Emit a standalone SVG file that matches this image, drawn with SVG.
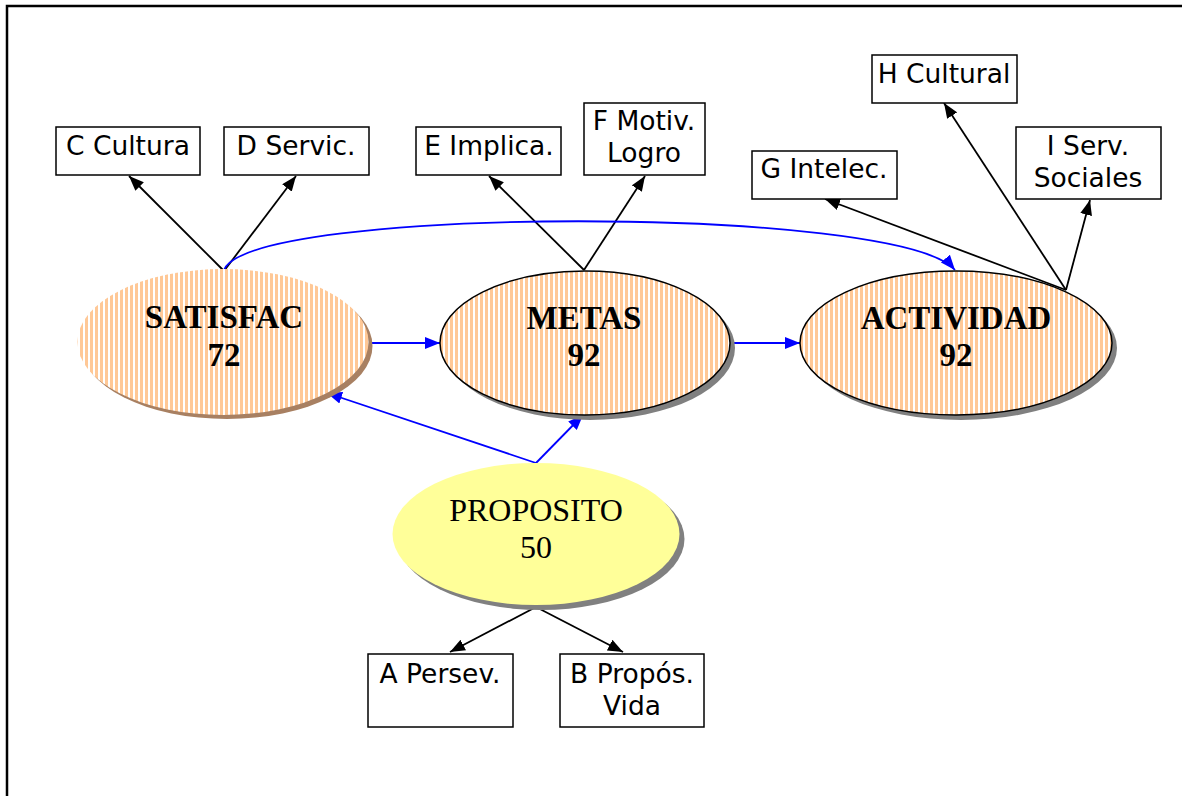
<svg xmlns="http://www.w3.org/2000/svg" width="1182" height="796" viewBox="0 0 1182 796">
<defs>
<pattern id="stripes" patternUnits="userSpaceOnUse" width="5" height="10">
<rect width="5" height="10" fill="#ffffff"/>
<rect width="3" height="10" fill="#ffc896"/>
</pattern>
<marker id="ab" viewBox="0 0 15 12" refX="15" refY="6" markerWidth="15" markerHeight="12" markerUnits="userSpaceOnUse" orient="auto">
<path d="M0,0 L15,6 L0,12 Z" fill="#000"/>
</marker>
<marker id="ablue" viewBox="0 0 15 12" refX="15" refY="6" markerWidth="15" markerHeight="12" markerUnits="userSpaceOnUse" orient="auto">
<path d="M0,0 L15,6 L0,12 Z" fill="#0000ff"/>
</marker>
</defs>
<style>
.box{fill:#fff;stroke:#000;stroke-width:1.5}
.bt{font-family:"DejaVu Sans",Verdana,sans-serif;font-size:26.5px;fill:#000;text-anchor:middle}
.et{font-family:"Liberation Serif","Times New Roman",serif;font-size:32px;fill:#000;text-anchor:middle}
.bold{font-weight:bold;font-size:33px}
.k{stroke:#000;stroke-width:1.8;fill:none;marker-end:url(#ab)}
.b{stroke:#0000ff;stroke-width:1.8;fill:none;marker-end:url(#ablue)}
</style>
<rect width="1182" height="796" fill="#fff"/>
<path d="M7,796 V6 H1182" fill="none" stroke="#000" stroke-width="2.5"/>

<g id="connectors">
<line class="k" x1="224" y1="271" x2="129" y2="176"/>
<line class="k" x1="224" y1="271" x2="296" y2="176"/>
<line class="k" x1="584" y1="270" x2="489" y2="176"/>
<line class="k" x1="584" y1="270" x2="645" y2="176"/>
<line class="k" x1="1066" y1="290" x2="825" y2="199"/>
<line class="k" x1="1066" y1="290" x2="944" y2="103"/>
<line class="k" x1="1066" y1="290" x2="1090" y2="200"/>
<line class="k" x1="536" y1="607" x2="450" y2="652"/>
<line class="k" x1="536" y1="607" x2="623" y2="652"/>
<path class="b" d="M224,270 C250,205 900,205 955,270"/>
<line class="b" x1="368" y1="343" x2="440" y2="343"/>
<line class="b" x1="730" y1="343" x2="800" y2="343"/>
<line class="b" x1="536" y1="463" x2="327" y2="393"/>
<line class="b" x1="536" y1="463" x2="583" y2="415"/>
</g>

<g id="satisfac">
<ellipse cx="227" cy="346" rx="145.5" ry="73" fill="#a88062"/>
<ellipse cx="223" cy="342" rx="145.5" ry="73" fill="url(#stripes)"/>
<text class="et bold" x="224" y="328">SATISFAC</text>
<text class="et bold" x="224" y="366">72</text>
</g>
<g id="metas">
<ellipse cx="590" cy="348" rx="145" ry="72" fill="#808080"/>
<ellipse cx="585" cy="343" rx="145" ry="72" fill="url(#stripes)" stroke="#000" stroke-width="1.5"/>
<text class="et bold" x="584" y="329">METAS</text>
<text class="et bold" x="584" y="366">92</text>
</g>
<g id="actividad">
<ellipse cx="961" cy="348" rx="156" ry="72" fill="#808080"/>
<ellipse cx="956" cy="343" rx="156" ry="72" fill="url(#stripes)" stroke="#000" stroke-width="1.5"/>
<text class="et bold" x="956" y="329">ACTIVIDAD</text>
<text class="et bold" x="956" y="366">92</text>
</g>
<g id="proposito">
<ellipse cx="541" cy="539" rx="143.5" ry="71" fill="#808080"/>
<ellipse cx="536" cy="534" rx="143.5" ry="71" fill="#ffff99"/>
<text class="et" x="536" y="521">PROPOSITO</text>
<text class="et" x="536" y="558">50</text>
</g>

<g id="c-cultura"><rect class="box" x="56" y="127" width="144" height="48"/><text class="bt" x="128" y="155">C Cultura</text></g>
<g id="d-servic"><rect class="box" x="224" y="127" width="145" height="48"/><text class="bt" x="296" y="155">D Servic.</text></g>
<g id="e-implica"><rect class="box" x="416" y="127" width="145" height="48"/><text class="bt" x="489" y="155">E Implica.</text></g>
<g id="f-motiv"><rect class="box" x="584" y="103" width="121" height="72"/><text class="bt" x="644" y="130">F Motiv.</text><text class="bt" x="644" y="162">Logro</text></g>
<g id="h-cultural"><rect class="box" x="872" y="55" width="145" height="48"/><text class="bt" x="944" y="83">H Cultural</text></g>
<g id="g-intelec"><rect class="box" x="752" y="151" width="145" height="48"/><text class="bt" x="824" y="178">G Intelec.</text></g>
<g id="i-serv"><rect class="box" x="1016" y="127" width="145" height="72"/><text class="bt" x="1088" y="155">I Serv.</text><text class="bt" x="1088" y="187">Sociales</text></g>
<g id="a-persev"><rect class="box" x="368" y="654" width="145" height="73"/><text class="bt" x="440" y="683">A Persev.</text></g>
<g id="b-propos"><rect class="box" x="560" y="654" width="144" height="73"/><text class="bt" x="632" y="683">B Propós.</text><text class="bt" x="632" y="715">Vida</text></g>
</svg>
